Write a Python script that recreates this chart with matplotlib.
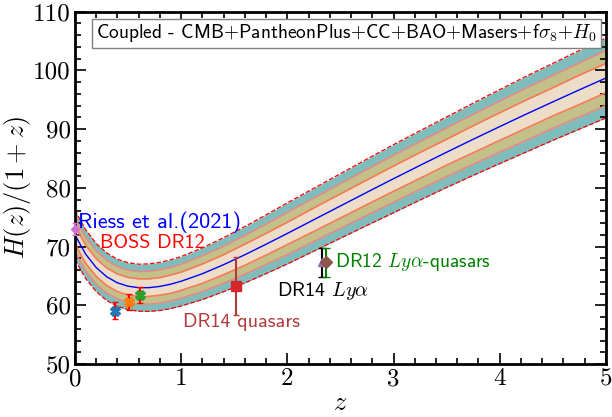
import numpy as np
import matplotlib
matplotlib.use('Agg')
import matplotlib.pyplot as plt
from matplotlib.ticker import MultipleLocator

plt.rcParams['mathtext.fontset'] = 'cm'
plt.rcParams['font.family'] = ['cmss10', 'DejaVu Sans']
plt.rcParams['axes.unicode_minus'] = False

# best-fit H(z)/(1+z) and band half-widths
z = [0.0, 0.1, 0.2, 0.3, 0.4, 0.5, 0.6, 0.7, 0.8, 0.9, 1.0, 1.2, 1.4, 1.6, 1.8, 2.0,
     2.25, 2.5, 2.75, 3.0, 3.25, 3.5, 3.75, 4.0, 4.25, 4.5, 4.75, 5.0]
hz = [72.0, 68.73, 66.43, 64.85, 63.83, 63.25, 63.0, 63.01, 63.22, 63.59, 64.1, 65.38,
      66.92, 68.61, 70.4, 72.24, 74.58, 76.92, 79.25, 81.56, 83.83, 86.07, 88.27, 90.43,
      92.56, 94.64, 96.69, 98.7]
sig1 = [1.55, 1.55, 1.5, 1.5, 1.5, 1.5, 1.5, 1.5, 1.5, 1.55, 1.55, 1.65, 1.7, 1.8, 1.85,
        1.9, 2.0, 2.05, 2.1, 2.15, 2.2, 2.2, 2.3, 2.35, 2.4, 2.4, 2.5, 2.5]
sig2 = [2.9, 2.85, 2.85, 2.8, 2.75, 2.75, 2.75, 2.8, 2.85, 2.85, 2.9, 3.05, 3.15, 3.3,
        3.45, 3.6, 3.7, 3.8, 3.9, 4.0, 4.05, 4.15, 4.25, 4.35, 4.45, 4.5, 4.6, 4.7]
sig3 = [4.2, 4.15, 4.1, 4.05, 4.0, 4.0, 4.0, 4.05, 4.1, 4.15, 4.2, 4.4, 4.6, 4.8, 5.0,
        5.2, 5.35, 5.5, 5.65, 5.8, 5.9, 6.0, 6.15, 6.3, 6.45, 6.55, 6.7, 6.8]

# data points
riess_z, riess_h, riess_e = 0.0, 73.04, 1.04
boss_z = [0.38, 0.51, 0.61]
boss_h = [59.1, 60.5, 61.8]
boss_e = [1.45, 1.35, 1.4]
boss_c = ['tab:blue', 'tab:orange', 'tab:green']
q14_z, q14_h, q14_e = 1.52, 63.3, 5.0
lya14_z, lya14_h, lya14_e = 2.33, 67.3, 2.4
lya12_z, lya12_h, lya12_e = 2.36, 67.3, 2.4

z = np.array(z)
hz = np.array(hz)
sig1, sig2, sig3 = np.array(sig1), np.array(sig2), np.array(sig3)

fig = plt.figure(figsize=(6.12, 4.17), dpi=100)
ax = fig.add_axes([0.1225, 0.127, 0.8675, 0.845])

# bands
ax.fill_between(z, hz - sig3, hz + sig3, color='#7fbdbd', lw=0)
ax.fill_between(z, hz - sig2, hz + sig2, color='#c3c08a', lw=0)
ax.fill_between(z, hz - sig1, hz + sig1, color='#ecdcc8', lw=0)
for s in (1, -1):
    ax.plot(z, hz + s * sig3, color='red', ls='--', lw=0.9)
    ax.plot(z, hz + s * sig2, color='#e58b86', lw=1.2)
    ax.plot(z, hz + s * sig1, color='#f77a55', lw=1.2)
ax.plot(z, hz, color='blue', lw=1.0)

# points
ax.errorbar(riess_z, riess_h, yerr=riess_e, fmt='D', color='#d070d0', ms=4,
            ecolor='#d070d0', capsize=2, zorder=5, clip_on=False)
for i in range(3):
    ax.errorbar(boss_z[i], boss_h[i], yerr=boss_e[i], fmt='X', color=boss_c[i], ms=6.5,
                ecolor='red', elinewidth=1.5, capsize=2, zorder=5)
ax.errorbar(q14_z, q14_h, yerr=q14_e, fmt='s', color='#d62728', ms=6.5,
            ecolor='#b03a3a', elinewidth=1.5, capsize=2, zorder=5)
ax.errorbar(lya14_z, lya14_h, yerr=lya14_e, fmt='^', color='tab:purple', ms=6,
            ecolor='black', elinewidth=1.5, capsize=3, zorder=5)
ax.errorbar(lya12_z, lya12_h, yerr=lya12_e, fmt='D', color='tab:brown', ms=6,
            ecolor='green', elinewidth=1.5, capsize=3, zorder=6)

# labels next to the points
ax.text(0.03, 74.2, 'Riess et al.(2021)', color='blue', fontsize=16, va='center')
ax.text(0.24, 70.6, 'BOSS DR12', color='red', fontsize=14.5, va='center')
ax.text(1.02, 57.1, 'DR14 quasars', color='#b03a3a', fontsize=14.5, va='center')
ax.text(1.9, 62.4, r'DR14 $Ly\alpha$', color='black', fontsize=14.5, va='center')
ax.text(2.45, 67.3, r'DR12 $Ly\alpha$-quasars', color='green', fontsize=14, va='center')

ax.text(0.2, 106.3, r'Coupled - CMB$+$PantheonPlus$+$CC$+$BAO$+$Masers$+$f$\sigma_8$$+H_0$',
        fontsize=14, va='center',
        bbox=dict(boxstyle='square,pad=0.2', fc='white', ec='gray', lw=1))

ax.set_xlim(0, 5)
ax.set_ylim(50, 110)
ax.set_xlabel(r'$z$', fontsize=19, labelpad=1)
ax.set_ylabel(r'$H(z)/(1+z)$', fontsize=19, labelpad=0)

ax.xaxis.set_major_locator(MultipleLocator(1))
ax.xaxis.set_minor_locator(MultipleLocator(0.2))
ax.yaxis.set_major_locator(MultipleLocator(10))
ax.yaxis.set_minor_locator(MultipleLocator(2))
ax.tick_params(which='both', direction='in', top=True, right=True, width=1.2)
ax.tick_params(which='major', length=8, labelsize=18, pad=3)
ax.tick_params(which='minor', length=4.5)
for lab in ax.get_xticklabels() + ax.get_yticklabels():
    lab.set_family('cmr10')
for sp in ax.spines.values():
    sp.set_linewidth(2)

fig.savefig('out.png', dpi=100)
